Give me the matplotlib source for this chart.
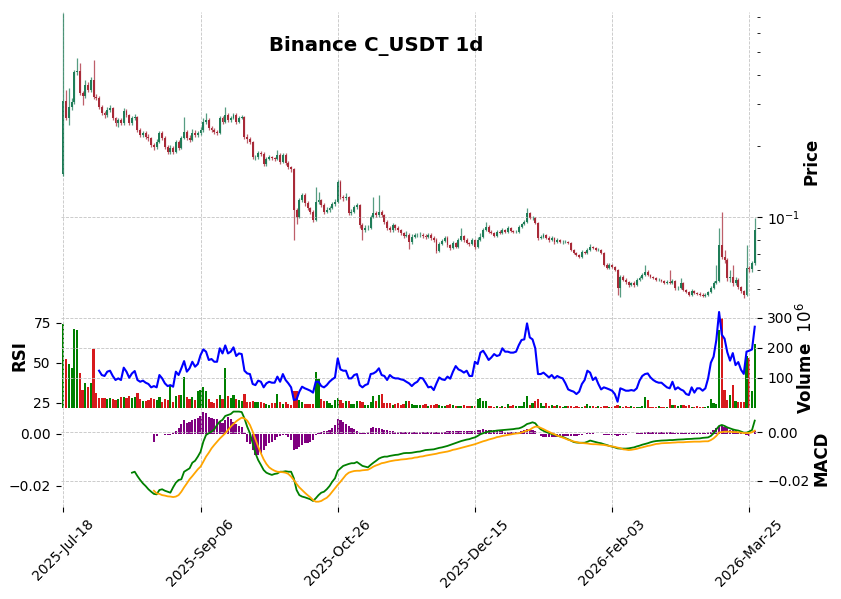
import numpy as np
import matplotlib
matplotlib.use("Agg")
import matplotlib.pyplot as plt
from matplotlib.ticker import LogLocator, NullFormatter, FixedLocator

TITLE = "Binance C_USDT 1d"
tick_pos = [0, 50, 100, 150, 200, 250]
tick_labels = ["2025-Jul-18", "2025-Sep-06", "2025-Oct-26",
               "2025-Dec-15", "2026-Feb-03", "2026-Mar-25"]

# daily OHLC (USDT)
opens = [
    0.1523, 0.310, 0.2623, 0.2922, 0.3069, 0.4099, 0.4139, 0.3341, 0.3248, 0.362,
    0.344, 0.380, 0.3216, 0.3186, 0.2922, 0.2758, 0.270, 0.284, 0.2894, 0.2623,
    0.2496, 0.257, 0.2496, 0.2812, 0.270, 0.2496, 0.2623, 0.2648, 0.2335, 0.2225,
    0.2268, 0.2182, 0.2161, 0.202, 0.1981, 0.2079, 0.2268, 0.2161, 0.1981, 0.1886,
    0.1962, 0.1886, 0.2079, 0.1962, 0.2161, 0.2290, 0.2161, 0.212, 0.2268, 0.2225,
    0.2268, 0.2335, 0.2520, 0.257, 0.2380, 0.2335, 0.2290, 0.2268, 0.2623, 0.2520,
    0.270, 0.257, 0.2623, 0.270, 0.2520, 0.2623, 0.2648, 0.2182, 0.2140, 0.2079,
    0.1796, 0.1796, 0.1868, 0.1850, 0.1679, 0.1762, 0.1796, 0.1779, 0.1762, 0.1832,
    0.1711, 0.1832, 0.1695, 0.1630, 0.1599, 0.1073, 0.1003, 0.1183, 0.1242, 0.1149,
    0.1095, 0.1052, 0.0974, 0.1160, 0.1183, 0.1127, 0.1052, 0.1073, 0.1095, 0.1138,
    0.1160, 0.1409, 0.1218, 0.1206, 0.1218, 0.1042, 0.1052, 0.1105, 0.1127, 0.0928,
    0.0884, 0.0901, 0.0901, 0.1003, 0.1042, 0.1023, 0.1052, 0.1023, 0.0955, 0.0901,
    0.0884, 0.0928, 0.0901, 0.0884, 0.0859, 0.0834, 0.0842, 0.0786, 0.0826, 0.0842,
    0.0842, 0.0842, 0.0834, 0.0826, 0.0842, 0.0818, 0.0802, 0.0721, 0.0771, 0.0794,
    0.0818, 0.0764, 0.0742, 0.0779, 0.0749, 0.0802, 0.0834, 0.0802, 0.0779, 0.0771,
    0.0802, 0.0749, 0.0802, 0.0826, 0.0884, 0.0910, 0.0867, 0.0859, 0.0834, 0.0867,
    0.0859, 0.0884, 0.0867, 0.0901, 0.0875, 0.0867, 0.0867, 0.0910, 0.0937, 0.0955,
    0.1042, 0.0994, 0.0994, 0.0946, 0.0818, 0.0826, 0.0842, 0.0818, 0.0802, 0.0818,
    0.0786, 0.0802, 0.0786, 0.0786, 0.0786, 0.0779, 0.0728, 0.0707, 0.0693, 0.0680,
    0.0714, 0.0707, 0.0728, 0.0749, 0.0742, 0.0728, 0.0728, 0.0707, 0.0629, 0.0611,
    0.0629, 0.0617, 0.0599, 0.0503, 0.0560, 0.0544, 0.0533, 0.0518, 0.0528, 0.0518,
    0.0544, 0.0555, 0.0571, 0.0587, 0.0571, 0.0560, 0.0555, 0.0544, 0.0544, 0.0539,
    0.0528, 0.0533, 0.0528, 0.0539, 0.0503, 0.0503, 0.0528, 0.0493, 0.0483, 0.0470,
    0.0488, 0.0479, 0.0474, 0.0470, 0.0465, 0.0470, 0.0483, 0.0503, 0.0528, 0.0539,
    0.0764, 0.0680, 0.0660, 0.0555, 0.0560, 0.0528, 0.0544, 0.0508, 0.0488, 0.0470,
    0.0611, 0.0605, 0.0641,
]
highs = [
    0.730, 0.344, 0.351, 0.318, 0.418, 0.470, 0.448, 0.342, 0.380, 0.372,
    0.392, 0.461, 0.330, 0.325, 0.298, 0.282, 0.292, 0.297, 0.293, 0.266,
    0.262, 0.263, 0.288, 0.287, 0.274, 0.268, 0.272, 0.268, 0.238, 0.232,
    0.231, 0.224, 0.219, 0.206, 0.213, 0.232, 0.231, 0.220, 0.201, 0.201,
    0.199, 0.212, 0.212, 0.221, 0.265, 0.234, 0.222, 0.235, 0.233, 0.232,
    0.240, 0.262, 0.276, 0.262, 0.243, 0.238, 0.233, 0.268, 0.268, 0.292,
    0.276, 0.268, 0.276, 0.275, 0.268, 0.270, 0.268, 0.224, 0.218, 0.210,
    0.184, 0.191, 0.190, 0.188, 0.180, 0.183, 0.182, 0.180, 0.192, 0.186,
    0.187, 0.186, 0.172, 0.165, 0.162, 0.109, 0.121, 0.127, 0.126, 0.117,
    0.111, 0.107, 0.1343, 0.128, 0.120, 0.115, 0.110, 0.112, 0.116, 0.119,
    0.1437, 0.143, 0.124, 0.1267, 0.123, 0.108, 0.113, 0.115, 0.114, 0.0945,
    0.0925, 0.0925, 0.1025, 0.1218, 0.1060, 0.1242, 0.1075, 0.1035, 0.0970, 0.0915,
    0.0945, 0.0940, 0.0915, 0.0895, 0.0870, 0.0875, 0.0860, 0.0850, 0.0860, 0.0860,
    0.0865, 0.0860, 0.0850, 0.0860, 0.0855, 0.0830, 0.0815, 0.0785, 0.0810, 0.0835,
    0.0830, 0.0775, 0.0795, 0.0790, 0.0815, 0.0900, 0.0845, 0.0815, 0.0790, 0.0815,
    0.0810, 0.0825, 0.0855, 0.0900, 0.0955, 0.0925, 0.0880, 0.0870, 0.0880, 0.0880,
    0.0900, 0.0895, 0.0915, 0.0910, 0.0885, 0.0880, 0.0925, 0.0950, 0.0970, 0.1094,
    0.1055, 0.1010, 0.1000, 0.0955, 0.0845, 0.0860, 0.0850, 0.0830, 0.0830, 0.0825,
    0.0815, 0.0810, 0.0800, 0.0798, 0.0795, 0.0790, 0.0735, 0.0715, 0.0700, 0.0725,
    0.0722, 0.0740, 0.0768, 0.0758, 0.0750, 0.0740, 0.0735, 0.0712, 0.0640, 0.0640,
    0.0637, 0.0625, 0.0605, 0.0572, 0.0570, 0.0552, 0.0540, 0.0535, 0.0536, 0.0552,
    0.0565, 0.0580, 0.0629, 0.0598, 0.0578, 0.0566, 0.0562, 0.0552, 0.0550, 0.0545,
    0.0542, 0.0599, 0.0548, 0.0545, 0.0512, 0.0555, 0.0535, 0.0500, 0.0490, 0.0496,
    0.0495, 0.0486, 0.0482, 0.0478, 0.0478, 0.0490, 0.0515, 0.0540, 0.0629, 0.0901,
    0.1052, 0.0728, 0.0670, 0.0600, 0.0629, 0.0560, 0.0552, 0.0515, 0.0495, 0.0764,
    0.0625, 0.0655, 0.0994,
]
lows = [
    0.150, 0.258, 0.245, 0.285, 0.302, 0.398, 0.327, 0.298, 0.318, 0.338,
    0.337, 0.316, 0.312, 0.287, 0.270, 0.262, 0.265, 0.279, 0.257, 0.242,
    0.240, 0.246, 0.246, 0.266, 0.244, 0.245, 0.258, 0.230, 0.219, 0.219,
    0.214, 0.210, 0.198, 0.193, 0.195, 0.205, 0.212, 0.194, 0.185, 0.185,
    0.185, 0.186, 0.193, 0.194, 0.213, 0.212, 0.208, 0.209, 0.218, 0.219,
    0.223, 0.230, 0.247, 0.234, 0.229, 0.225, 0.222, 0.224, 0.247, 0.249,
    0.253, 0.253, 0.259, 0.248, 0.249, 0.259, 0.214, 0.205, 0.204, 0.176,
    0.175, 0.177, 0.181, 0.164, 0.165, 0.174, 0.175, 0.173, 0.174, 0.168,
    0.169, 0.166, 0.160, 0.156, 0.0802, 0.0940, 0.0990, 0.116, 0.112, 0.107,
    0.103, 0.0955, 0.0965, 0.114, 0.110, 0.103, 0.104, 0.105, 0.108, 0.112,
    0.115, 0.120, 0.117, 0.118, 0.102, 0.102, 0.104, 0.108, 0.0905, 0.0802,
    0.0870, 0.0880, 0.0890, 0.0990, 0.1005, 0.1000, 0.1000, 0.0935, 0.0880, 0.0865,
    0.0870, 0.0885, 0.0870, 0.0845, 0.0820, 0.0825, 0.0735, 0.0775, 0.0815, 0.0825,
    0.0825, 0.0820, 0.0810, 0.0815, 0.0805, 0.0785, 0.0705, 0.0712, 0.0762, 0.0785,
    0.0752, 0.0730, 0.0735, 0.0740, 0.0742, 0.0795, 0.0790, 0.0768, 0.0760, 0.0762,
    0.0738, 0.0742, 0.0795, 0.0818, 0.0875, 0.0858, 0.0848, 0.0825, 0.0828, 0.0850,
    0.0852, 0.0858, 0.0860, 0.0866, 0.0858, 0.0858, 0.0860, 0.0902, 0.0930, 0.0948,
    0.0985, 0.0975, 0.0935, 0.0805, 0.0810, 0.0815, 0.0808, 0.0790, 0.0795, 0.0775,
    0.0778, 0.0778, 0.0775, 0.0776, 0.0770, 0.0718, 0.0698, 0.0684, 0.0672, 0.0675,
    0.0698, 0.0700, 0.0722, 0.0735, 0.0720, 0.0720, 0.0700, 0.0620, 0.0602, 0.0605,
    0.0610, 0.0592, 0.0470, 0.0461, 0.0537, 0.0525, 0.0510, 0.0512, 0.0510, 0.0512,
    0.0538, 0.0548, 0.0565, 0.0565, 0.0554, 0.0548, 0.0537, 0.0537, 0.0532, 0.0522,
    0.0522, 0.0522, 0.0522, 0.0495, 0.0495, 0.0498, 0.0487, 0.0477, 0.0464, 0.0466,
    0.0473, 0.0468, 0.0464, 0.0460, 0.0461, 0.0466, 0.0478, 0.0498, 0.0522, 0.0535,
    0.0665, 0.0640, 0.0540, 0.0535, 0.0515, 0.0520, 0.0500, 0.0480, 0.0458, 0.0465,
    0.0590, 0.0585, 0.0630,
]
closes = [
    0.310, 0.2623, 0.2922, 0.3069, 0.4099, 0.4139, 0.3341, 0.3248, 0.362, 0.344,
    0.380, 0.3216, 0.3186, 0.2922, 0.2758, 0.270, 0.284, 0.2894, 0.2623, 0.2496,
    0.257, 0.2496, 0.2812, 0.270, 0.2496, 0.2623, 0.2648, 0.2335, 0.2225, 0.2268,
    0.2182, 0.2161, 0.202, 0.1981, 0.2079, 0.2268, 0.2161, 0.1981, 0.1886, 0.1962,
    0.1886, 0.2079, 0.1962, 0.2161, 0.2290, 0.2161, 0.212, 0.2268, 0.2225, 0.2268,
    0.2335, 0.2520, 0.257, 0.2380, 0.2335, 0.2290, 0.2268, 0.2623, 0.2520, 0.270,
    0.257, 0.2623, 0.270, 0.2520, 0.2623, 0.2648, 0.2182, 0.2140, 0.2079, 0.1796,
    0.1796, 0.1868, 0.1850, 0.1679, 0.1762, 0.1796, 0.1779, 0.1762, 0.1832, 0.1711,
    0.1832, 0.1695, 0.1630, 0.1599, 0.1073, 0.1003, 0.1183, 0.1242, 0.1149, 0.1095,
    0.1052, 0.0974, 0.1160, 0.1183, 0.1127, 0.1052, 0.1073, 0.1095, 0.1138, 0.1160,
    0.1409, 0.1218, 0.1206, 0.1218, 0.1042, 0.1052, 0.1105, 0.1127, 0.0928, 0.0884,
    0.0901, 0.0901, 0.1003, 0.1042, 0.1023, 0.1052, 0.1023, 0.0955, 0.0901, 0.0884,
    0.0928, 0.0901, 0.0884, 0.0859, 0.0834, 0.0842, 0.0786, 0.0826, 0.0842, 0.0842,
    0.0842, 0.0834, 0.0826, 0.0842, 0.0818, 0.0802, 0.0721, 0.0771, 0.0794, 0.0818,
    0.0764, 0.0742, 0.0779, 0.0749, 0.0802, 0.0834, 0.0802, 0.0779, 0.0771, 0.0802,
    0.0749, 0.0802, 0.0826, 0.0884, 0.0910, 0.0867, 0.0859, 0.0834, 0.0867, 0.0859,
    0.0884, 0.0867, 0.0901, 0.0875, 0.0867, 0.0867, 0.0910, 0.0937, 0.0955, 0.1042,
    0.0994, 0.0994, 0.0946, 0.0818, 0.0826, 0.0842, 0.0818, 0.0802, 0.0818, 0.0786,
    0.0802, 0.0786, 0.0786, 0.0786, 0.0779, 0.0728, 0.0707, 0.0693, 0.0680, 0.0714,
    0.0707, 0.0728, 0.0749, 0.0742, 0.0728, 0.0728, 0.0707, 0.0629, 0.0611, 0.0629,
    0.0617, 0.0599, 0.0503, 0.0560, 0.0544, 0.0533, 0.0518, 0.0528, 0.0518, 0.0544,
    0.0555, 0.0571, 0.0587, 0.0571, 0.0560, 0.0555, 0.0544, 0.0544, 0.0539, 0.0528,
    0.0533, 0.0528, 0.0539, 0.0503, 0.0503, 0.0528, 0.0493, 0.0483, 0.0470, 0.0488,
    0.0479, 0.0474, 0.0470, 0.0465, 0.0470, 0.0483, 0.0503, 0.0528, 0.0539, 0.0764,
    0.0680, 0.0660, 0.0555, 0.0560, 0.0528, 0.0544, 0.0508, 0.0488, 0.0470, 0.0611,
    0.0605, 0.0641, 0.0885,
]
# volume in millions
volume_m = [
    281, 163, 148, 134, 264, 261, 118, 61, 84, 71,
    84, 198, 51, 34, 34, 32, 30, 34, 30, 28,
    31, 35, 36, 34, 40, 33, 35, 50, 31, 22,
    22, 28, 33, 30, 26, 37, 20, 30, 26, 73,
    21, 41, 42, 43, 104, 37, 30, 37, 26, 57,
    60, 71, 58, 30, 21, 18, 30, 43, 29, 133,
    41, 33, 44, 30, 26, 24, 47, 21, 19, 24,
    19, 21, 19, 17, 13, 11, 15, 15, 47, 19,
    13, 19, 13, 10, 58, 58, 26, 19, 13, 13,
    13, 13, 119, 95, 31, 24, 22, 15, 11, 26,
    34, 26, 17, 24, 24, 13, 13, 22, 24, 19,
    11, 11, 20, 40, 24, 42, 47, 18, 18, 17,
    11, 12, 15, 11, 13, 22, 24, 13, 11, 10,
    10, 9, 12, 8, 10, 9, 13, 11, 8, 6,
    10, 12, 10, 8, 7, 6, 9, 7, 8, 6,
    8, 30, 34, 24, 22, 6, 5, 4, 5, 4,
    6, 4, 13, 5, 11, 5, 6, 8, 20, 41,
    10, 18, 24, 30, 16, 8, 16, 6, 10, 5,
    10, 6, 4, 5, 6, 5, 4, 5, 3, 4,
    5, 13, 6, 5, 4, 5, 4, 5, 6, 4,
    3, 5, 10, 7, 4, 5, 4, 6, 4, 3,
    4, 5, 37, 27, 4, 3, 4, 5, 3, 4,
    3, 30, 10, 10, 5, 9, 9, 5, 10, 4,
    3, 5, 4, 3, 4, 6, 30, 15, 12, 261,
    300, 60, 28, 42, 78, 24, 19, 21, 21, 173,
    167, 58, 214,
]
N = None
rsi = [
    N, N, N, N, N, N, N, N, N, N,
    N, N, N, 45.0, 42.3, 41.7, 44.4, 45.0, 41.7, 39.2,
    40.2, 39.2, 46.9, 44.4, 40.6, 43.3, 44.8, 39.2, 38.1, 38.8,
    37.5, 36.7, 34.6, 35.4, 34.6, 42.3, 40.2, 37.1, 35.4, 36.0,
    35.0, 44.4, 42.3, 46.5, 51.0, 44.4, 46.5, 50.6, 47.5, 49.2,
    54.8, 58.3, 56.9, 51.7, 52.3, 50.6, 50.6, 59.0, 55.8, 60.8,
    55.8, 56.9, 59.6, 54.2, 55.8, 55.4, 45.0, 43.3, 42.9, 36.7,
    36.0, 38.8, 38.1, 34.6, 37.1, 38.1, 37.5, 37.5, 41.3, 38.1,
    42.9, 39.2, 37.1, 34.6, 26.7, 27.1, 31.9, 35.0, 34.0, 33.3,
    32.5, 31.3, 38.1, 38.1, 35.4, 34.6, 36.0, 38.1, 39.6, 40.8,
    52.7, 45.8, 45.0, 45.0, 40.2, 40.2, 42.3, 42.9, 36.0, 34.6,
    36.0, 36.7, 42.9, 43.3, 44.4, 46.5, 42.3, 41.7, 39.2, 42.3,
    40.8, 40.2, 40.2, 39.6, 39.2, 38.1, 37.1, 35.4, 37.1, 38.1,
    40.5, 40.2, 37.5, 34.6, 35.0, 32.9, 37.1, 40.8, 39.6, 39.2,
    41.3, 40.0, 44.4, 47.9, 45.8, 45.0, 43.8, 45.0, 41.7, 41.7,
    50.6, 49.2, 56.3, 57.5, 54.8, 51.7, 53.3, 55.4, 54.2, 54.8,
    59.0, 56.9, 56.9, 56.3, 56.3, 56.9, 61.0, 64.2, 64.6, 74.6,
    65.8, 64.6, 59.0, 42.9, 42.9, 43.8, 42.3, 40.8, 42.3, 40.2,
    41.7, 40.8, 40.2, 37.1, 33.3, 32.5, 31.9, 30.4, 31.9, 36.7,
    39.2, 45.0, 43.8, 39.2, 40.8, 36.7, 33.3, 34.6, 34.0, 33.3,
    32.5, 30.4, 25.6, 34.0, 33.3, 32.5, 32.5, 32.9, 32.5, 34.0,
    38.8, 41.7, 42.9, 43.3, 40.8, 39.2, 38.1, 37.5, 37.5, 36.0,
    34.6, 34.0, 38.1, 33.3, 34.6, 33.3, 32.5, 30.4, 29.8, 34.6,
    31.3, 34.0, 34.0, 32.5, 34.0, 40.2, 50.0, 53.8, 64.2, 81.7,
    67.5, 65.0, 56.5, 51.3, 56.0, 48.5, 50.4, 45.6, 43.0, 56.9,
    57.5, 58.3, 72.5,
]
# MACD, signal and histogram in units of 1e-3
macd_k = [
    N, N, N, N, N, N, N, N, N, N,
    N, N, N, N, N, N, N, N, N, N,
    N, N, N, N, N, -16.6, -16.2, -18.0, -19.6, -21.0,
    -22.1, -23.4, -24.4, -25.3, -25.5, -23.7, -23.4, -24.0, -24.4, -24.8,
    -22.6, -20.7, -19.6, -19.3, -16.2, -15.5, -14.8, -12.5, -11.7, -10.0,
    -8.0, -3.9, -1.1, -0.4, 0.3, 1.2, 3.0, 4.4, 5.1, 6.7,
    7.1, 7.5, 8.5, 8.5, 8.5, 8.3, 5.7, 2.3, -0.4, -4.5,
    -8.6, -11.4, -13.4, -15.5, -16.6, -17.1, -17.5, -17.1, -16.9, -16.2,
    -16.2, -16.0, -16.2, -16.2, -18.9, -23.7, -25.8, -26.4, -26.7, -27.1,
    -27.5, -28.2, -27.1, -25.8, -24.8, -24.4, -23.4, -22.1, -20.3, -18.9,
    -15.8, -14.8, -13.8, -13.4, -13.0, -12.7, -12.7, -12.2, -13.0, -13.8,
    -14.1, -14.4, -13.4, -12.5, -11.7, -10.8, -10.3, -10.0, -10.0, -9.7,
    -9.5, -9.3, -9.2, -8.9, -8.6, -8.5, -8.5, -8.4, -8.2, -8.0,
    -7.9, -7.6, -7.3, -7.2, -7.1, -7.0, -6.7, -6.4, -6.2, -5.9,
    -5.6, -5.2, -4.8, -4.4, -4.0, -3.6, -3.3, -3.0, -2.8, -2.4,
    -2.1, -1.5, -0.8, -0.4, 0.0, 0.3, 0.4, 0.5, 0.7, 0.8,
    0.9, 1.0, 1.1, 1.2, 1.3, 1.5, 1.6, 2.0, 2.6, 3.4,
    3.7, 4.1, 3.7, 2.3, 1.2, 0.6, 0.1, -0.3, -0.7, -1.0,
    -1.4, -1.7, -1.9, -2.4, -2.9, -3.4, -4.0, -4.2, -4.3, -4.3,
    -4.3, -3.9, -3.4, -3.7, -4.0, -4.3, -4.5, -4.9, -5.2, -5.6,
    -5.9, -6.2, -6.6, -6.7, -6.7, -6.7, -6.6, -6.4, -6.2, -5.8,
    -5.5, -5.1, -4.8, -4.5, -4.1, -3.8, -3.6, -3.5, -3.4, -3.35,
    -3.3, -3.2, -3.2, -3.1, -3.0, -2.95, -2.9, -2.8, -2.75, -2.7,
    -2.6, -2.55, -2.5, -2.3, -2.2, -2.1, -1.5, -0.4, 1.2, 2.6,
    3.0, 2.6, 2.0, 1.6, 1.2, 0.9, 0.7, 0.3, -0.15, -0.15,
    0.3, 0.9, 4.8,
]
signal_k = [
    N, N, N, N, N, N, N, N, N, N,
    N, N, N, N, N, N, N, N, N, N,
    N, N, N, N, N, N, N, N, N, N,
    N, N, N, -24.0, -25.1, -25.3, -25.8, -26.0, -26.3, -26.4,
    -26.6, -26.4, -25.8, -24.4, -22.6, -21.0, -19.3, -18.0, -16.6, -15.2,
    -14.1, -12.1, -10.0, -8.4, -6.6, -5.2, -3.9, -2.6, -1.5, -0.4,
    0.9, 2.3, 3.4, 4.5, 5.3, 6.0, 5.7, 4.8, 3.0, 0.3,
    -2.9, -5.9, -8.6, -11.1, -13.0, -14.4, -15.2, -15.8, -16.2, -16.3,
    -16.4, -16.6, -17.1, -18.2, -19.6, -21.2, -22.6, -23.7, -24.8, -25.8,
    -26.7, -27.8, -28.5, -28.5, -28.2, -27.5, -26.9, -25.8, -24.4, -23.0,
    -21.6, -20.3, -18.9, -17.5, -16.6, -16.2, -15.9, -15.8, -15.8, -15.6,
    -15.5, -15.4, -14.8, -14.1, -13.6, -13.2, -12.7, -12.5, -12.2, -11.9,
    -11.7, -11.5, -11.4, -11.2, -11.1, -11.0, -10.8, -10.7, -10.4, -10.3,
    -10.0, -9.9, -9.6, -9.4, -9.2, -9.0, -8.8, -8.5, -8.3, -8.1,
    -7.9, -7.6, -7.2, -7.0, -6.7, -6.4, -6.1, -5.8, -5.5, -5.2,
    -4.9, -4.5, -4.1, -3.7, -3.4, -3.0, -2.7, -2.4, -2.0, -1.8,
    -1.5, -1.3, -1.1, -0.9, -0.7, -0.5, -0.4, -0.1, 0.3, 0.7,
    1.0, 1.8, 2.3, 2.3, 1.8, 1.3, 0.7, 0.2, -0.4, -0.8,
    -1.4, -1.7, -2.2, -2.6, -3.1, -3.4, -3.8, -4.0, -4.3, -4.4,
    -4.5, -4.6, -4.8, -4.9, -4.9, -5.0, -5.1, -5.2, -5.4, -5.6,
    -5.8, -6.0, -6.3, -6.5, -7.0, -7.1, -7.3, -7.2, -7.0, -6.8,
    -6.45, -6.2, -5.9, -5.6, -5.4, -5.1, -4.8, -4.7, -4.5, -4.45,
    -4.4, -4.35, -4.25, -4.2, -4.1, -4.1, -4.1, -4.0, -3.95, -3.9,
    -3.85, -3.85, -3.85, -3.75, -3.7, -3.7, -3.2, -2.5, -1.5, -0.1,
    0.1, 0.26, 0.26, 0.26, 0.1, 0.1, 0.0, -0.15, -0.3, -0.3,
    -0.3, 0.0, 0.67,
]
hist_k = [
    N, N, N, N, N, N, N, N, N, N,
    N, N, N, N, N, N, N, N, N, N,
    N, N, N, N, N, N, N, N, N, N,
    N, N, N, -3.06, -0.89, -0.26, -0.26, -0.51, -0.51, -0.38,
    0.13, 1.15, 2.04, 3.70, 5.23, 4.21, 4.59, 5.23, 5.48, 5.87,
    6.76, 8.16, 7.78, 6.50, 5.87, 5.48, 5.74, 4.97, 3.95, 5.23,
    6.25, 5.48, 4.59, 3.70, 2.93, 2.42, 0.38, -3.06, -4.08, -6.25,
    -8.16, -8.16, -7.52, -6.25, -4.72, -3.70, -3.06, -2.42, -1.15, -0.89,
    -0.51, -0.51, -1.40, -2.42, -6.25, -5.99, -4.97, -4.34, -3.70, -3.44,
    -3.06, -2.42, -0.51, 0.38, 0.77, 1.15, 1.15, 1.40, 2.04, 3.32,
    5.48, 5.23, 4.59, 3.70, 2.93, 2.04, 1.66, 1.15, 0.38, 0.13,
    0.38, 0.77, 2.04, 2.42, 2.04, 2.04, 1.66, 1.40, 1.40, 1.15,
    1.15, 0.77, 0.77, 0.64, 0.64, 0.51, 0.51, 0.64, 0.64, 0.64,
    0.77, 0.8, 0.8, 0.6, 0.6, 0.5, 0.7, 0.8, 0.7, 0.8,
    0.9, 1.0, 1.1, 1.2, 1.1, 1.0, 1.1, 1.0, 0.9, 0.9,
    1.1, 1.4, 1.6, 1.7, 1.6, 1.5, 1.4, 1.3, 1.1, 1.0,
    0.9, 0.8, 0.8, 0.7, 0.7, 0.7, 0.8, 1.1, 1.4, 1.8,
    1.7, 1.5, 1.0, -0.2, -0.9, -1.2, -1.4, -1.4, -1.3, -1.2,
    -1.1, -0.9, -0.8, -0.8, -0.8, -0.9, -0.9, -0.8, -0.6, -0.4,
    -0.3, 0.1, 0.3, 0.1, -0.1, -0.2, -0.3, -0.4, -0.4, -0.5,
    -0.5, -0.6, -0.7, -0.6, -0.5, -0.4, -0.3, -0.2, 0.0, 0.2,
    0.3, 0.4, 0.5, 0.6, 0.6, 0.6, 0.6, 0.5, 0.5, 0.5,
    0.5, 0.5, 0.5, 0.4, 0.4, 0.4, 0.4, 0.4, 0.3, 0.4,
    0.3, 0.3, 0.3, 0.4, 0.4, 0.5, 0.8, 1.5, 2.3, 2.8,
    2.9, 2.5, 2.0, 1.6, 1.3, 1.0, 0.8, 0.5, 0.0, -0.5,
    -0.7, -0.3, 0.9,
]

UP, DOWN = "#1f7d58", "#a82a38"
GRID = dict(ls="--", color="#c4c4c4", lw=0.6)


def arr(v, scale=1.0):
    return np.array([np.nan if a is None else a for a in v], dtype=float) * scale


o, h, l, c = arr(opens), arr(highs), arr(lows), arr(closes)
x = np.arange(len(c))
up = c >= o
ccol = np.where(up, UP, DOWN)
vcol = np.where(up, "#008000", "#d7191c")

fig = plt.figure(figsize=(8.41, 5.99), dpi=100)
L, W = 0.0721, 0.8286
ax_p = fig.add_axes([L, 0.4841, W, 0.4963])
ax_v = fig.add_axes([L, 0.3189, W, 0.1653], sharex=ax_p)
ax_h = fig.add_axes([L, 0.1536, W, 0.1653], sharex=ax_p)

# price panel
ax_p.set_yscale("log")
ax_p.vlines(x, l, h, colors=ccol, lw=0.9, alpha=0.75)
ax_p.bar(x, c - o, bottom=o, width=0.7, color=ccol, linewidth=0)
ax_p.set_ylim(0.0410, 0.737)
ax_p.set_xlim(-1, 253)
ax_p.yaxis.tick_right()
ax_p.yaxis.set_major_locator(LogLocator(base=10))
ax_p.yaxis.set_minor_locator(LogLocator(base=10, subs=np.arange(2, 10)))
ax_p.yaxis.set_minor_formatter(NullFormatter())
ax_p.grid(True, which="major", **GRID)
ax_p.tick_params(axis="x", bottom=False, labelbottom=False)

# volume + RSI panel
ax_r = ax_v.twinx()
ax_v.bar(x, arr(volume_m), width=0.8, color=vcol, linewidth=0)
ax_v.set_ylim(0, 330)
ax_v.yaxis.set_major_locator(FixedLocator([100, 200, 300]))
ax_v.yaxis.tick_right()
ax_v.grid(True, **GRID)
ax_v.tick_params(axis="x", bottom=False, labelbottom=False)
ax_r.plot(x, arr(rsi), color="blue", lw=1.5)
ax_r.set_ylim(21.7, 83.6)
ax_r.yaxis.set_major_locator(FixedLocator([25, 50, 75]))
ax_r.yaxis.tick_left()

# MACD panel
ax_m = ax_h.twinx()
ax_h.bar(x, arr(hist_k, 1e-3), width=0.8, color="purple", linewidth=0)
ax_h.set_ylim(-0.02803, 0.00983)
ax_h.yaxis.set_major_locator(FixedLocator([-0.02, 0.0]))
ax_h.yaxis.tick_left()
ax_h.grid(True, axis="x", **GRID)
ax_m.plot(x, arr(macd_k, 1e-3), color="green", lw=1.3)
ax_m.plot(x, arr(signal_k, 1e-3), color="orange", lw=1.3)
ax_m.set_ylim(-0.03068, 0.00998)
ax_m.yaxis.set_major_locator(FixedLocator([-0.02, 0.0]))
ax_m.yaxis.tick_right()
ax_m.grid(True, axis="y", **GRID)

ax_h.set_xticks(tick_pos)
ax_h.set_xticklabels(tick_labels, rotation=45)

for ax in (ax_p, ax_v, ax_r, ax_h, ax_m):
    for s in ax.spines.values():
        s.set_visible(False)
    ax.tick_params(labelsize=10)

fig.text(376 / 841, 1 - 46 / 599, TITLE, ha="center", va="center",
         fontsize=14.2, fontweight="bold")
fig.text(812 / 841, 1 - 161 / 599, "Price", rotation=90, ha="center",
         va="center", fontsize=12, fontweight="bold")
fig.text(20 / 841, 1 - 356 / 599, "RSI", rotation=90, ha="center",
         va="center", fontsize=12, fontweight="bold")
fig.text(806 / 841, 1 - 358 / 599, "Volume  $10^{6}$", rotation=90,
         ha="center", va="center", fontsize=12, fontweight="bold")
fig.text(822 / 841, 1 - 458 / 599, "MACD", rotation=90, ha="center",
         va="center", fontsize=12, fontweight="bold")

fig.savefig("out.png", dpi=100)
